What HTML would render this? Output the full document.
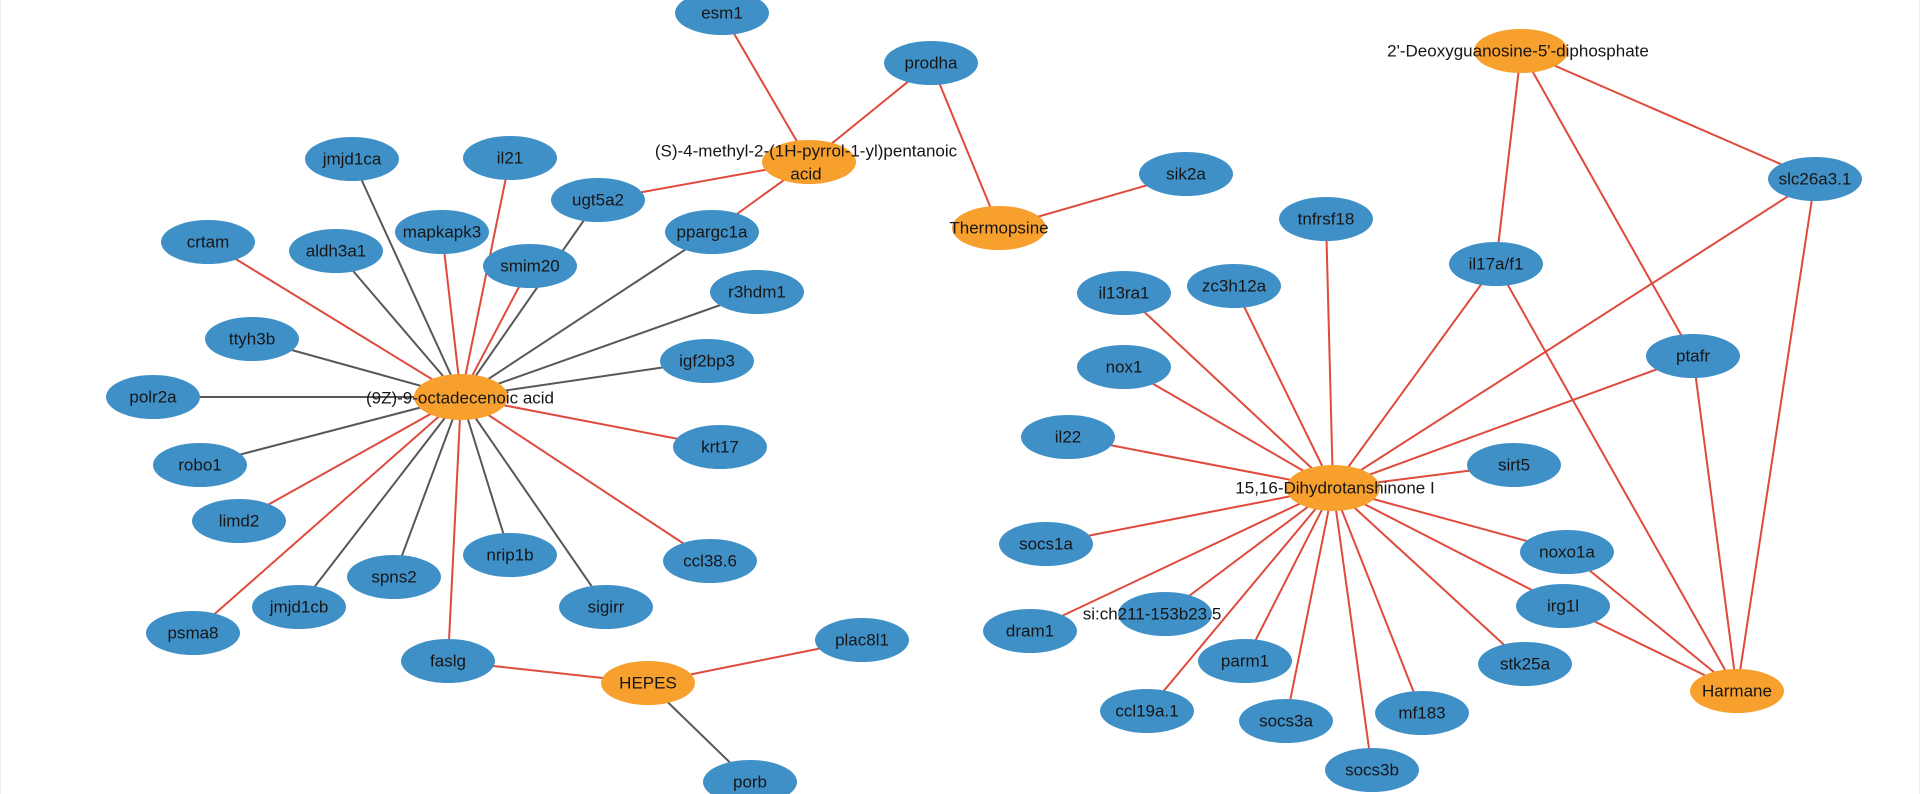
<!DOCTYPE html>
<html>
<head>
<meta charset="utf-8">
<style>
html,body{margin:0;padding:0;background:#fff;}
body{width:1920px;height:794px;overflow:hidden;}
svg{display:block;}
text{font-family:"Liberation Sans",Arial,sans-serif;font-size:17px;fill:#161616;text-anchor:middle;dominant-baseline:central;}
.r{stroke:#df4a3c;stroke-width:2;}
.g{stroke:#585858;stroke-width:2;}
.b{fill:#4090c8;}
.o{fill:#f8a02e;}
</style>
</head>
<body>
<svg width="1920" height="794" viewBox="0 0 1920 794" xmlns="http://www.w3.org/2000/svg">
<rect x="0" y="0" width="1920" height="794" fill="#fff"/>
<line x1="0.5" y1="0" x2="0.5" y2="794" stroke="#f2f2f2" stroke-width="1"/>
<line x1="1919.5" y1="0" x2="1919.5" y2="794" stroke="#f2f2f2" stroke-width="1"/>

<!-- edges from (9Z) 461,397 -->
<g>
<line class="g" x1="461" y1="397" x2="352" y2="159"/>
<line class="r" x1="461" y1="397" x2="510" y2="158"/>
<line class="r" x1="461" y1="397" x2="208" y2="242"/>
<line class="g" x1="461" y1="397" x2="336" y2="251"/>
<line class="r" x1="461" y1="397" x2="442" y2="232"/>
<line class="g" x1="461" y1="397" x2="598" y2="200"/>
<line class="r" x1="461" y1="397" x2="530" y2="266"/>
<line class="g" x1="461" y1="397" x2="252" y2="339"/>
<line class="g" x1="461" y1="397" x2="153" y2="397"/>
<line class="g" x1="461" y1="397" x2="712" y2="232"/>
<line class="g" x1="461" y1="397" x2="757" y2="292"/>
<line class="g" x1="461" y1="397" x2="707" y2="361"/>
<line class="r" x1="461" y1="397" x2="720" y2="447"/>
<line class="r" x1="461" y1="397" x2="710" y2="561"/>
<line class="g" x1="461" y1="397" x2="200" y2="465"/>
<line class="r" x1="461" y1="397" x2="239" y2="521"/>
<line class="r" x1="461" y1="397" x2="193" y2="633"/>
<line class="g" x1="461" y1="397" x2="299" y2="607"/>
<line class="g" x1="461" y1="397" x2="394" y2="577"/>
<line class="g" x1="461" y1="397" x2="510" y2="555"/>
<line class="g" x1="461" y1="397" x2="606" y2="607"/>
<line class="r" x1="461" y1="397" x2="448" y2="661"/>
</g>
<!-- (S)-4-methyl 809,162 -->
<line class="r" x1="809" y1="162" x2="722" y2="13"/>
<line class="r" x1="809" y1="162" x2="931" y2="63"/>
<line class="r" x1="809" y1="162" x2="598" y2="200"/>
<line class="r" x1="809" y1="162" x2="712" y2="232"/>
<!-- Thermopsine -->
<line class="r" x1="999" y1="228" x2="931" y2="63"/>
<line class="r" x1="999" y1="228" x2="1186" y2="174"/>
<!-- HEPES -->
<line class="r" x1="648" y1="683" x2="448" y2="661"/>
<line class="r" x1="648" y1="683" x2="862" y2="640"/>
<line class="g" x1="648" y1="683" x2="750" y2="782"/>
<!-- 15,16 1333,488 -->
<g>
<line class="r" x1="1333" y1="488" x2="1124" y2="293"/>
<line class="r" x1="1333" y1="488" x2="1234" y2="286"/>
<line class="r" x1="1333" y1="488" x2="1326" y2="219"/>
<line class="r" x1="1333" y1="488" x2="1496" y2="264"/>
<line class="r" x1="1333" y1="488" x2="1815" y2="179"/>
<line class="r" x1="1333" y1="488" x2="1693" y2="356"/>
<line class="r" x1="1333" y1="488" x2="1124" y2="367"/>
<line class="r" x1="1333" y1="488" x2="1068" y2="437"/>
<line class="r" x1="1333" y1="488" x2="1514" y2="465"/>
<line class="r" x1="1333" y1="488" x2="1046" y2="544"/>
<line class="r" x1="1333" y1="488" x2="1030" y2="631"/>
<line class="r" x1="1333" y1="488" x2="1165" y2="614"/>
<line class="r" x1="1333" y1="488" x2="1147" y2="711"/>
<line class="r" x1="1333" y1="488" x2="1245" y2="661"/>
<line class="r" x1="1333" y1="488" x2="1286" y2="721"/>
<line class="r" x1="1333" y1="488" x2="1372" y2="770"/>
<line class="r" x1="1333" y1="488" x2="1422" y2="713"/>
<line class="r" x1="1333" y1="488" x2="1525" y2="664"/>
<line class="r" x1="1333" y1="488" x2="1563" y2="606"/>
<line class="r" x1="1333" y1="488" x2="1567" y2="552"/>
</g>
<!-- Deoxy 1521,51 -->
<line class="r" x1="1521" y1="51" x2="1496" y2="264"/>
<line class="r" x1="1521" y1="51" x2="1693" y2="356"/>
<line class="r" x1="1521" y1="51" x2="1815" y2="179"/>
<!-- Harmane 1737,691 -->
<line class="r" x1="1737" y1="691" x2="1496" y2="264"/>
<line class="r" x1="1737" y1="691" x2="1693" y2="356"/>
<line class="r" x1="1737" y1="691" x2="1815" y2="179"/>
<line class="r" x1="1737" y1="691" x2="1567" y2="552"/>
<line class="r" x1="1737" y1="691" x2="1563" y2="606"/>

<!-- blue nodes -->
<g class="b">
<ellipse cx="352" cy="159" rx="47" ry="22"/>
<ellipse cx="510" cy="158" rx="47" ry="22"/>
<ellipse cx="598" cy="200" rx="47" ry="22"/>
<ellipse cx="208" cy="242" rx="47" ry="22"/>
<ellipse cx="336" cy="251" rx="47" ry="22"/>
<ellipse cx="442" cy="232" rx="47" ry="22"/>
<ellipse cx="530" cy="266" rx="47" ry="22"/>
<ellipse cx="252" cy="339" rx="47" ry="22"/>
<ellipse cx="153" cy="397" rx="47" ry="22"/>
<ellipse cx="200" cy="465" rx="47" ry="22"/>
<ellipse cx="239" cy="521" rx="47" ry="22"/>
<ellipse cx="193" cy="633" rx="47" ry="22"/>
<ellipse cx="299" cy="607" rx="47" ry="22"/>
<ellipse cx="394" cy="577" rx="47" ry="22"/>
<ellipse cx="510" cy="555" rx="47" ry="22"/>
<ellipse cx="606" cy="607" rx="47" ry="22"/>
<ellipse cx="448" cy="661" rx="47" ry="22"/>
<ellipse cx="722" cy="13" rx="47" ry="22"/>
<ellipse cx="931" cy="63" rx="47" ry="22"/>
<ellipse cx="712" cy="232" rx="47" ry="22"/>
<ellipse cx="1186" cy="174" rx="47" ry="22"/>
<ellipse cx="757" cy="292" rx="47" ry="22"/>
<ellipse cx="707" cy="361" rx="47" ry="22"/>
<ellipse cx="1124" cy="293" rx="47" ry="22"/>
<ellipse cx="1234" cy="286" rx="47" ry="22"/>
<ellipse cx="1124" cy="367" rx="47" ry="22"/>
<ellipse cx="720" cy="447" rx="47" ry="22"/>
<ellipse cx="710" cy="561" rx="47" ry="22"/>
<ellipse cx="862" cy="640" rx="47" ry="22"/>
<ellipse cx="750" cy="782" rx="47" ry="22"/>
<ellipse cx="1068" cy="437" rx="47" ry="22"/>
<ellipse cx="1046" cy="544" rx="47" ry="22"/>
<ellipse cx="1030" cy="631" rx="47" ry="22"/>
<ellipse cx="1165" cy="614" rx="47" ry="22"/>
<ellipse cx="1147" cy="711" rx="47" ry="22"/>
<ellipse cx="1815" cy="179" rx="47" ry="22"/>
<ellipse cx="1326" cy="219" rx="47" ry="22"/>
<ellipse cx="1496" cy="264" rx="47" ry="22"/>
<ellipse cx="1693" cy="356" rx="47" ry="22"/>
<ellipse cx="1514" cy="465" rx="47" ry="22"/>
<ellipse cx="1567" cy="552" rx="47" ry="22"/>
<ellipse cx="1563" cy="606" rx="47" ry="22"/>
<ellipse cx="1525" cy="664" rx="47" ry="22"/>
<ellipse cx="1245" cy="661" rx="47" ry="22"/>
<ellipse cx="1286" cy="721" rx="47" ry="22"/>
<ellipse cx="1422" cy="713" rx="47" ry="22"/>
<ellipse cx="1372" cy="770" rx="47" ry="22"/>
</g>
<!-- orange nodes -->
<g class="o">
<ellipse cx="461" cy="397" rx="47" ry="23"/>
<ellipse cx="809" cy="162" rx="47" ry="22"/>
<ellipse cx="999" cy="228" rx="47" ry="22"/>
<ellipse cx="648" cy="683" rx="47" ry="22"/>
<ellipse cx="1333" cy="488" rx="47" ry="23"/>
<ellipse cx="1521" cy="51" rx="47" ry="22"/>
<ellipse cx="1737" cy="691" rx="47" ry="22"/>
</g>

<!-- labels -->
<g>
<text x="352" y="159">jmjd1ca</text>
<text x="510" y="158">il21</text>
<text x="598" y="200">ugt5a2</text>
<text x="208" y="242">crtam</text>
<text x="336" y="251">aldh3a1</text>
<text x="442" y="232">mapkapk3</text>
<text x="530" y="266">smim20</text>
<text x="252" y="339">ttyh3b</text>
<text x="153" y="397">polr2a</text>
<text x="200" y="465">robo1</text>
<text x="239" y="521">limd2</text>
<text x="193" y="633">psma8</text>
<text x="299" y="607">jmjd1cb</text>
<text x="394" y="577">spns2</text>
<text x="510" y="555">nrip1b</text>
<text x="606" y="607">sigirr</text>
<text x="448" y="661">faslg</text>
<text x="722" y="13">esm1</text>
<text x="931" y="63">prodha</text>
<text x="712" y="232">ppargc1a</text>
<text x="1186" y="174">sik2a</text>
<text x="757" y="292">r3hdm1</text>
<text x="707" y="361">igf2bp3</text>
<text x="1124" y="293">il13ra1</text>
<text x="1234" y="286">zc3h12a</text>
<text x="1124" y="367">nox1</text>
<text x="720" y="447">krt17</text>
<text x="710" y="561">ccl38.6</text>
<text x="862" y="640">plac8l1</text>
<text x="750" y="782">porb</text>
<text x="1068" y="437">il22</text>
<text x="1046" y="544">socs1a</text>
<text x="1030" y="631">dram1</text>
<text x="1152" y="614">si:ch211-153b23.5</text>
<text x="1147" y="711">ccl19a.1</text>
<text x="1815" y="179">slc26a3.1</text>
<text x="1326" y="219">tnfrsf18</text>
<text x="1496" y="264">il17a/f1</text>
<text x="1693" y="356">ptafr</text>
<text x="1514" y="465">sirt5</text>
<text x="1567" y="552">noxo1a</text>
<text x="1563" y="606">irg1l</text>
<text x="1525" y="664">stk25a</text>
<text x="1245" y="661">parm1</text>
<text x="1286" y="721">socs3a</text>
<text x="1422" y="713">mf183</text>
<text x="1372" y="770">socs3b</text>

<text x="460" y="398">(9Z)-9-octadecenoic acid</text>
<text x="806" y="151">(S)-4-methyl-2-(1H-pyrrol-1-yl)pentanoic</text>
<text x="806" y="174">acid</text>
<text x="999" y="228">Thermopsine</text>
<text x="648" y="683">HEPES</text>
<text x="1335" y="488">15,16-Dihydrotanshinone I</text>
<text x="1518" y="51">2'-Deoxyguanosine-5'-diphosphate</text>
<text x="1737" y="691">Harmane</text>
</g>
</svg>
</body>
</html>
